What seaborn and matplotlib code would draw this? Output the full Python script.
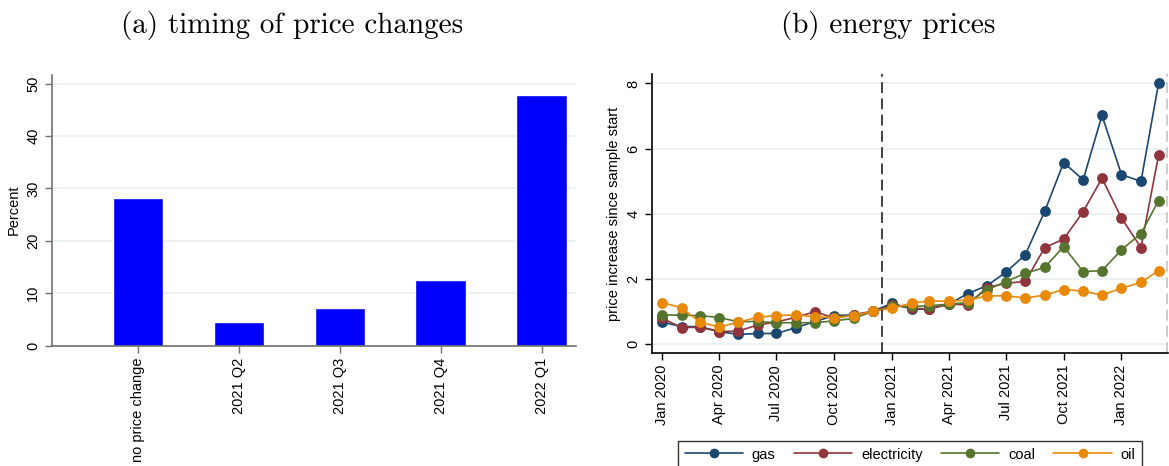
import pandas as pd
import numpy as np
import matplotlib
matplotlib.use('Agg')
import matplotlib.pyplot as plt
import matplotlib.dates as mdates
import seaborn as sns

sns.set_style('white')
plt.rcParams['font.family'] = ['Liberation Sans', 'DejaVu Sans']
plt.rcParams['text.color'] = 'black'
plt.rcParams['axes.labelcolor'] = 'black'

# panel (a) data
categories = ['no price change', '2021 Q2', '2021 Q3', '2021 Q4', '2022 Q1']
percent = [28.2, 4.5, 7.2, 12.5, 47.9]

# panel (b) data, monthly Jan 2020 - Mar 2022
months = pd.date_range('2020-01-01', periods=27, freq='MS')
gas = [0.67, 0.53, 0.53, 0.38, 0.29, 0.32, 0.32, 0.50, 0.69, 0.87, 0.89, 1.0,
       1.25, 1.07, 1.07, 1.22, 1.54, 1.79, 2.20, 2.74, 4.08, 5.57, 5.04, 7.02,
       5.20, 4.99, 8.01]
electricity = [0.79, 0.50, 0.51, 0.38, 0.39, 0.58, 0.67, 0.82, 0.99, 0.79, 0.89, 1.0,
               1.20, 1.10, 1.07, 1.22, 1.20, 1.73, 1.86, 1.92, 2.96, 3.22, 4.06, 5.09,
               3.86, 2.96, 5.80]
coal = [0.89, 0.88, 0.87, 0.81, 0.68, 0.69, 0.65, 0.65, 0.65, 0.71, 0.78, 1.0,
        1.15, 1.15, 1.17, 1.22, 1.27, 1.66, 1.91, 2.17, 2.35, 2.99, 2.22, 2.25,
        2.89, 3.39, 4.40]
oil = [1.27, 1.11, 0.67, 0.52, 0.66, 0.82, 0.87, 0.89, 0.83, 0.81, 0.87, 1.0,
       1.10, 1.25, 1.32, 1.31, 1.35, 1.47, 1.48, 1.41, 1.50, 1.67, 1.62, 1.50,
       1.71, 1.89, 2.25]
series_names = ['gas', 'electricity', 'coal', 'oil']
series_colors = ['#1a476f', '#90353b', '#55752f', '#e8890a']

df = pd.DataFrame({'month': np.tile(months, 4),
                   'value': gas + electricity + coal + oil,
                   'series': np.repeat(series_names, len(months))})

fig = plt.figure(figsize=(11.69, 4.66), dpi=100)
ax1 = fig.add_axes([52/1169, 1-345.7/466, (576-52)/1169, (345.7-74.7)/466])
ax2 = fig.add_axes([652/1169, 1-353/466, (1168-652)/1169, (353-74)/466])

grid_col = '#eaf2f3'
tick_fs = 10.5

# (a) bars
sns.barplot(x=categories, y=percent, color='#0000ff', saturation=1, width=0.5, ax=ax1)
ax1.set_xlim(-0.85, 4.34)
ax1.set_ylim(0, 51.7)
ax1.set_yticks([0, 10, 20, 30, 40, 50])
ax1.yaxis.grid(True, color=grid_col, linewidth=1.4)
ax1.set_axisbelow(True)
ax1.set_ylabel('Percent', fontsize=tick_fs)
ax1.set_xlabel('')
for s in ['top', 'right']:
    ax1.spines[s].set_visible(False)
for s in ['left', 'bottom']:
    ax1.spines[s].set_color('#707070')
    ax1.spines[s].set_linewidth(1.2)
ax1.tick_params(axis='both', direction='out', length=5, width=1, color='#707070',
                labelcolor='black', labelsize=tick_fs, left=True, bottom=True)
plt.setp(ax1.get_xticklabels(), rotation=90)
plt.setp(ax1.get_yticklabels(), rotation=90, va='center')

# (b) lines
sns.lineplot(data=df, x='month', y='value', hue='series', palette=series_colors,
             marker='o', markersize=7.8, markeredgewidth=0, linewidth=1.2, ax=ax2)
ax2.axvline(pd.Timestamp('2020-12-16'), color='#333333', linewidth=1.3, dashes=(6, 3))
ax2.axvline(pd.Timestamp('2022-03-14'), color='#c8c8c8', linewidth=1.3, dashes=(6, 3))
ax2.set_xlim(pd.Timestamp('2019-12-16'), pd.Timestamp('2022-03-16'))
ax2.set_ylim(-0.28, 8.29)
ax2.set_yticks([0, 2, 4, 6, 8])
ax2.yaxis.grid(True, color=grid_col, linewidth=1.4)
ax2.set_axisbelow(True)
ax2.xaxis.set_major_locator(mdates.MonthLocator(bymonth=[1, 4, 7, 10]))
ax2.xaxis.set_major_formatter(mdates.DateFormatter('%b %Y'))
ax2.set_ylabel('price increase since sample start', fontsize=tick_fs)
ax2.set_xlabel('')
for s in ['top', 'right']:
    ax2.spines[s].set_visible(False)
for s in ['left', 'bottom']:
    ax2.spines[s].set_color('black')
    ax2.spines[s].set_linewidth(1.2)
ax2.tick_params(axis='both', direction='out', length=5, width=1, color='black',
                labelcolor='black', labelsize=tick_fs, left=True, bottom=True)
plt.setp(ax2.get_xticklabels(), rotation=90)
plt.setp(ax2.get_yticklabels(), rotation=90, va='center')

handles, labels = ax2.get_legend_handles_labels()
ax2.get_legend().remove()
leg = fig.legend(handles, labels, ncol=4, loc='upper left', mode='expand',
                 bbox_to_anchor=(678/1169, -0.06, 464/1169, 0.06 + 1 - 441/466),
                 borderaxespad=0, frameon=True, fancybox=False, edgecolor='black',
                 fontsize=tick_fs, handlelength=4, handletextpad=0.6, borderpad=0.45,
                 markerscale=0.9)
leg.get_frame().set_linewidth(1.0)

fig.text(292/1169, 1-25/466, '(a) timing of price changes', family='cmr10',
         fontsize=21, ha='center', va='center')
fig.text(888/1169, 1-25/466, '(b) energy prices', family='cmr10',
         fontsize=21, ha='center', va='center')

fig.savefig('out.png', dpi=100)
